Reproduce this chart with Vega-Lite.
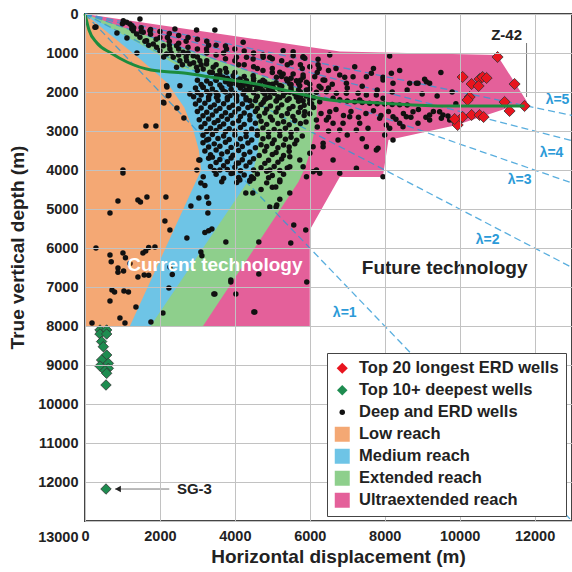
{
"$schema":"https://vega.github.io/schema/vega-lite/v6.json",
"width":487,"height":507,"autosize":"none",
"padding":{"left":85,"top":14,"right":0,"bottom":51},
"background":"white",
"config":{
"view":{"stroke":"#444","strokeWidth":2},
"axis":{"labelFont":"Liberation Sans","labelFontWeight":"bold","labelFontSize":14.5,"labelColor":"#222","titleFont":"Liberation Sans","titleFontWeight":"bold","titleFontSize":19,"titleColor":"#222","ticks":false,"domain":false,"grid":true,"gridColor":"#c2c2c2","gridOpacity":1,"gridWidth":1},
"legend":{"orient":"none","legendX":242,"legendY":339,"labelFont":"Liberation Sans","labelFontSize":16.5,"labelFontWeight":"bold","labelColor":"#222","fillColor":"#ffffff","strokeColor":"#444","padding":7,"rowPadding":5,"labelOffset":8.5,"labelLimit":320,"symbolStrokeWidth":0,"symbolOpacity":1}
},
"datasets":{
"regions":[
{"k":"g","x":0,"y":0},{"k":"g","x":6800,"y":960},{"k":"g","x":11000,"y":1050},{"k":"g","x":11800,"y":2250},{"k":"g","x":9900,"y":2850},{"k":"g","x":8100,"y":3230},{"k":"g","x":7950,"y":4180},{"k":"g","x":6800,"y":4181},{"k":"g","x":6000,"y":5540},{"k":"g","x":6000,"y":8000},
{"k":"f","x":0,"y":0},{"k":"f","x":6200,"y":2080},{"k":"f","x":6180,"y":2700},{"k":"f","x":6020,"y":3500},{"k":"f","x":5870,"y":3950},{"k":"f","x":5700,"y":4300},{"k":"f","x":3150,"y":8000},
{"k":"e","x":0,"y":0},{"k":"e","x":1470,"y":770},{"k":"e","x":2600,"y":1400},{"k":"e","x":3300,"y":1500},{"k":"e","x":4100,"y":1560},{"k":"e","x":4600,"y":2700},{"k":"e","x":4650,"y":3150},{"k":"e","x":4600,"y":3600},{"k":"e","x":4450,"y":4150},{"k":"e","x":1750,"y":8000},
{"k":"d","x":0,"y":0},{"k":"d","x":1500,"y":1180},{"k":"d","x":2200,"y":1770},{"k":"d","x":2650,"y":2400},{"k":"d","x":2900,"y":3000},{"k":"d","x":3040,"y":3500},{"k":"d","x":3100,"y":4000},{"k":"d","x":1200,"y":8000}
],
"lam":[{"x":0,"y":0,"x2":13000,"y2":13000},{"x":0,"y":0,"x2":13000,"y2":6500},{"x":0,"y":0,"x2":13000,"y2":4333},{"x":0,"y":0,"x2":13000,"y2":3250},{"x":0,"y":0,"x2":13000,"y2":2600}],
"annot":[{"x":11787,"y":744,"x2":11787,"y2":2128},{"x":800,"y":12180,"x2":2250,"y2":12180}],
"curve":[{"x":0,"y":0},{"x":107,"y":410},{"x":320,"y":744},{"x":693,"y":1000},{"x":1120,"y":1231},{"x":1760,"y":1436},{"x":2640,"y":1513},{"x":3520,"y":1641},{"x":4427,"y":1769},{"x":5307,"y":1949},{"x":6533,"y":2205},{"x":7867,"y":2282},{"x":9653,"y":2359},{"x":11733,"y":2359}],
"pts":[
{"k":"c","x":266,"y":342},{"k":"c","x":1022,"y":171},{"k":"c","x":1111,"y":214},{"k":"c","x":1200,"y":256},{"k":"c","x":1467,"y":128},{"k":"c","x":1289,"y":427},{"k":"c","x":1378,"y":513},{"k":"c","x":1467,"y":598},{"k":"c","x":1555,"y":470},{"k":"c","x":1644,"y":684},{"k":"c","x":1733,"y":427},{"k":"c","x":1822,"y":769},{"k":"c","x":1911,"y":855},{"k":"c","x":2000,"y":940},{"k":"c","x":2089,"y":812},{"k":"c","x":2178,"y":1026},{"k":"c","x":2267,"y":897},{"k":"c","x":2356,"y":1111},{"k":"c","x":2444,"y":812},{"k":"c","x":2533,"y":1197},{"k":"c","x":2622,"y":983},{"k":"c","x":2711,"y":1197},{"k":"c","x":2800,"y":1282},{"k":"c","x":2889,"y":1068},{"k":"c","x":2978,"y":1368},{"k":"c","x":3067,"y":1197},{"k":"c","x":3156,"y":1410},{"k":"c","x":3244,"y":1282},{"k":"c","x":3333,"y":1496},{"k":"c","x":3422,"y":1368},{"k":"c","x":3511,"y":1581},{"k":"c","x":3600,"y":1453},{"k":"c","x":3689,"y":1624},{"k":"c","x":3778,"y":1496},{"k":"c","x":3867,"y":1709},{"k":"c","x":3956,"y":1581},{"k":"c","x":4044,"y":1795},{"k":"c","x":4133,"y":1667},{"k":"c","x":4222,"y":1838},{"k":"c","x":4311,"y":1709},{"k":"c","x":4400,"y":1880},{"k":"c","x":4489,"y":1581},{"k":"c","x":4578,"y":1923},{"k":"c","x":4667,"y":1752},{"k":"c","x":4756,"y":1966},{"k":"c","x":4844,"y":1838},{"k":"c","x":4933,"y":2009},{"k":"c","x":5022,"y":1880},{"k":"c","x":5111,"y":1624},{"k":"c","x":5200,"y":1496},{"k":"c","x":5289,"y":1538},{"k":"c","x":5378,"y":1667},{"k":"c","x":5467,"y":1795},{"k":"c","x":5556,"y":1538},{"k":"c","x":5644,"y":1709},{"k":"c","x":5733,"y":1838},{"k":"c","x":5822,"y":1624},{"k":"c","x":5911,"y":1752},{"k":"c","x":6000,"y":1923},{"k":"c","x":2400,"y":385},{"k":"c","x":2978,"y":410},{"k":"c","x":3467,"y":410},{"k":"c","x":3244,"y":897},{"k":"c","x":3778,"y":897},{"k":"c","x":4044,"y":1111},{"k":"c","x":4222,"y":726},{"k":"c","x":4311,"y":1111},{"k":"c","x":4489,"y":1154},{"k":"c","x":4756,"y":1111},{"k":"c","x":4933,"y":1111},{"k":"c","x":5289,"y":940},{"k":"c","x":5556,"y":1068},{"k":"c","x":5822,"y":1111},{"k":"c","x":2444,"y":1368},{"k":"c","x":2533,"y":1838},{"k":"c","x":2800,"y":2051},{"k":"c","x":3156,"y":1880},{"k":"c","x":3333,"y":2051},{"k":"c","x":3511,"y":2137},{"k":"c","x":3689,"y":1966},{"k":"c","x":3867,"y":2094},{"k":"c","x":4044,"y":2179},{"k":"c","x":4222,"y":2051},{"k":"c","x":4400,"y":2222},{"k":"c","x":4578,"y":2137},{"k":"c","x":4756,"y":2265},{"k":"c","x":4933,"y":2137},{"k":"c","x":5111,"y":2222},{"k":"c","x":5289,"y":2094},{"k":"c","x":5467,"y":2009},{"k":"c","x":5644,"y":2137},{"k":"c","x":5822,"y":2222},{"k":"c","x":6000,"y":2094},{"k":"c","x":6178,"y":2009},{"k":"c","x":2178,"y":1838},{"k":"c","x":2222,"y":2094},{"k":"c","x":2089,"y":2265},
{"k":"c","x":1600,"y":700},{"k":"c","x":1700,"y":800},{"k":"c","x":2100,"y":1100},{"k":"c","x":2300,"y":1000},{"k":"c","x":2500,"y":1050},{"k":"c","x":2700,"y":1100},{"k":"c","x":2900,"y":1250},{"k":"c","x":3100,"y":1300},{"k":"c","x":3400,"y":1500},{"k":"c","x":3600,"y":1550},{"k":"c","x":3800,"y":1650},{"k":"c","x":4000,"y":1700},{"k":"c","x":4200,"y":1750},{"k":"c","x":4500,"y":1800},{"k":"c","x":4700,"y":1850},{"k":"c","x":5000,"y":1950},{"k":"c","x":5300,"y":2000},{"k":"c","x":5600,"y":2050},{"k":"c","x":5900,"y":2100},{"k":"c","x":1900,"y":650},{"k":"c","x":2600,"y":1300},{"k":"c","x":3000,"y":1450},{"k":"c","x":3500,"y":1700},{"k":"c","x":3900,"y":1800},{"k":"c","x":4300,"y":1950},{"k":"c","x":4800,"y":2050},{"k":"c","x":5200,"y":2150},{"k":"c","x":5700,"y":1950},{"k":"c","x":6100,"y":2150},{"k":"c","x":1300,"y":350},{"k":"c","x":2200,"y":600},{"k":"c","x":2700,"y":700},{"k":"c","x":3300,"y":800},{"k":"c","x":3700,"y":1000},{"k":"c","x":4100,"y":1300},{"k":"c","x":4600,"y":1400},{"k":"c","x":5000,"y":1400},{"k":"c","x":5400,"y":1300},{"k":"c","x":5800,"y":1400},{"k":"c","x":6200,"y":1500},{"k":"c","x":6400,"y":1700},
{"k":"c","x":1000,"y":250},{"k":"c","x":1250,"y":300},{"k":"c","x":1250,"y":380},{"k":"c","x":1500,"y":350},{"k":"c","x":1500,"y":450},{"k":"c","x":1750,"y":400},{"k":"c","x":1750,"y":520},{"k":"c","x":2000,"y":450},{"k":"c","x":2000,"y":600},{"k":"c","x":2250,"y":500},{"k":"c","x":2250,"y":700},{"k":"c","x":2250,"y":800},{"k":"c","x":2500,"y":550},{"k":"c","x":2500,"y":750},{"k":"c","x":2500,"y":900},{"k":"c","x":2750,"y":600},{"k":"c","x":2750,"y":850},{"k":"c","x":2750,"y":1000},{"k":"c","x":3000,"y":650},{"k":"c","x":3000,"y":900},{"k":"c","x":3000,"y":1100},{"k":"c","x":3250,"y":700},{"k":"c","x":3250,"y":1000},{"k":"c","x":3250,"y":1200},{"k":"c","x":3500,"y":800},{"k":"c","x":3500,"y":1050},{"k":"c","x":3500,"y":1300},{"k":"c","x":3750,"y":820},{"k":"c","x":3750,"y":1150},{"k":"c","x":3750,"y":1400},{"k":"c","x":4000,"y":900},{"k":"c","x":4000,"y":1200},{"k":"c","x":4000,"y":1500},{"k":"c","x":4250,"y":950},{"k":"c","x":4250,"y":1300},{"k":"c","x":4250,"y":1600},{"k":"c","x":4500,"y":1000},{"k":"c","x":4500,"y":1350},{"k":"c","x":4500,"y":1650},{"k":"c","x":4750,"y":1050},{"k":"c","x":4750,"y":1450},{"k":"c","x":4750,"y":1700},{"k":"c","x":5000,"y":1150},{"k":"c","x":5000,"y":1500},{"k":"c","x":5000,"y":1800},{"k":"c","x":5250,"y":1200},{"k":"c","x":5250,"y":1600},{"k":"c","x":5250,"y":1850},{"k":"c","x":5500,"y":1250},{"k":"c","x":5500,"y":1650},{"k":"c","x":5500,"y":1900},{"k":"c","x":5750,"y":1300},{"k":"c","x":5750,"y":1700},{"k":"c","x":5750,"y":2000},{"k":"c","x":6000,"y":1350},{"k":"c","x":6000,"y":1800},{"k":"c","x":6250,"y":1400},{"k":"c","x":6250,"y":1850},{"k":"c","x":6500,"y":1450},{"k":"c","x":6500,"y":1900},
{"k":"c","x":3000,"y":1700},{"k":"c","x":3250,"y":1720},{"k":"c","x":3500,"y":1690},{"k":"c","x":3750,"y":1740},{"k":"c","x":4000,"y":1710},{"k":"c","x":4250,"y":1760},{"k":"c","x":4500,"y":1700},{"k":"c","x":4800,"y":1740},{"k":"c","x":5100,"y":1760},{"k":"c","x":5400,"y":1720},{"k":"c","x":5700,"y":1780},
{"k":"c","x":2950,"y":1900},{"k":"c","x":3150,"y":1880},{"k":"c","x":3400,"y":1920},{"k":"c","x":3650,"y":1890},{"k":"c","x":3900,"y":1930},{"k":"c","x":4150,"y":1900},{"k":"c","x":4400,"y":1940},{"k":"c","x":4650,"y":1910},{"k":"c","x":4900,"y":1950},{"k":"c","x":5200,"y":1920},{"k":"c","x":5500,"y":1960},
{"k":"c","x":2900,"y":2120},{"k":"c","x":3100,"y":2080},{"k":"c","x":3300,"y":2130},{"k":"c","x":3550,"y":2090},{"k":"c","x":3800,"y":2140},{"k":"c","x":4050,"y":2100},{"k":"c","x":4300,"y":2150},{"k":"c","x":4600,"y":2110},{"k":"c","x":4850,"y":2160},{"k":"c","x":5150,"y":2120},{"k":"c","x":5450,"y":2170},{"k":"c","x":5750,"y":2130},{"k":"c","x":6050,"y":2300},
{"k":"c","x":2950,"y":2310},{"k":"c","x":3200,"y":2290},{"k":"c","x":3450,"y":2330},{"k":"c","x":3700,"y":2300},{"k":"c","x":3950,"y":2340},{"k":"c","x":4200,"y":2310},{"k":"c","x":4450,"y":2350},{"k":"c","x":4700,"y":2320},{"k":"c","x":4950,"y":2360},{"k":"c","x":5250,"y":2330},{"k":"c","x":5550,"y":2370},{"k":"c","x":5850,"y":2340},
{"k":"c","x":3000,"y":2500},{"k":"c","x":3250,"y":2520},{"k":"c","x":3500,"y":2490},{"k":"c","x":3750,"y":2530},{"k":"c","x":4000,"y":2510},{"k":"c","x":4250,"y":2540},{"k":"c","x":4550,"y":2500},{"k":"c","x":4800,"y":2540},{"k":"c","x":5100,"y":2510},{"k":"c","x":5400,"y":2550},{"k":"c","x":5700,"y":2520},{"k":"c","x":6000,"y":2560},
{"k":"c","x":3050,"y":2710},{"k":"c","x":3300,"y":2690},{"k":"c","x":3550,"y":2730},{"k":"c","x":3800,"y":2700},{"k":"c","x":4100,"y":2740},{"k":"c","x":4400,"y":2710},{"k":"c","x":4700,"y":2750},{"k":"c","x":5000,"y":2720},{"k":"c","x":5300,"y":2760},{"k":"c","x":5600,"y":2730},{"k":"c","x":5900,"y":2770},
{"k":"c","x":3100,"y":2900},{"k":"c","x":3350,"y":2930},{"k":"c","x":3600,"y":2890},{"k":"c","x":3850,"y":2940},{"k":"c","x":4150,"y":2910},{"k":"c","x":4450,"y":2950},{"k":"c","x":4750,"y":2920},{"k":"c","x":5050,"y":2960},{"k":"c","x":5350,"y":2930},{"k":"c","x":5650,"y":2970},
{"k":"c","x":3150,"y":3110},{"k":"c","x":3400,"y":3090},{"k":"c","x":3700,"y":3130},{"k":"c","x":4000,"y":3100},{"k":"c","x":4300,"y":3140},{"k":"c","x":4600,"y":3110},{"k":"c","x":4900,"y":3150},{"k":"c","x":5200,"y":3120},{"k":"c","x":5500,"y":3160},{"k":"c","x":5800,"y":3130},
{"k":"c","x":3150,"y":3300},{"k":"c","x":3450,"y":3330},{"k":"c","x":3750,"y":3290},{"k":"c","x":4050,"y":3340},{"k":"c","x":4350,"y":3310},{"k":"c","x":4700,"y":3350},{"k":"c","x":5000,"y":3320},{"k":"c","x":5300,"y":3360},{"k":"c","x":5600,"y":3330},
{"k":"c","x":3200,"y":3510},{"k":"c","x":3500,"y":3490},{"k":"c","x":3800,"y":3530},{"k":"c","x":4100,"y":3500},{"k":"c","x":4400,"y":3540},{"k":"c","x":4800,"y":3510},{"k":"c","x":5100,"y":3550},{"k":"c","x":5450,"y":3520},
{"k":"c","x":3300,"y":3700},{"k":"c","x":3600,"y":3730},{"k":"c","x":3900,"y":3690},{"k":"c","x":4200,"y":3740},{"k":"c","x":4500,"y":3710},{"k":"c","x":4900,"y":3750},{"k":"c","x":5250,"y":3720},
{"k":"c","x":3350,"y":3910},{"k":"c","x":3700,"y":3890},{"k":"c","x":4000,"y":3930},{"k":"c","x":4300,"y":3900},{"k":"c","x":4700,"y":3940},{"k":"c","x":5050,"y":3910},{"k":"c","x":5400,"y":3950},
{"k":"c","x":3500,"y":4110},{"k":"c","x":3900,"y":4090},{"k":"c","x":4250,"y":4130},{"k":"c","x":4600,"y":4100},{"k":"c","x":5000,"y":4140},{"k":"c","x":5300,"y":4110},
{"k":"c","x":3650,"y":4300},{"k":"c","x":4050,"y":4320},{"k":"c","x":4400,"y":4290},{"k":"c","x":4850,"y":4330},{"k":"c","x":5200,"y":4300},
{"k":"c","x":3100,"y":1810},{"k":"c","x":3350,"y":1790},{"k":"c","x":3600,"y":1820},{"k":"c","x":3850,"y":1800},{"k":"c","x":4100,"y":1830},{"k":"c","x":4350,"y":1810},{"k":"c","x":4600,"y":1840},{"k":"c","x":4900,"y":1800},{"k":"c","x":5200,"y":1830},{"k":"c","x":5500,"y":1810},
{"k":"c","x":3000,"y":2010},{"k":"c","x":3250,"y":1990},{"k":"c","x":3500,"y":2020},{"k":"c","x":3750,"y":2000},{"k":"c","x":4000,"y":2030},{"k":"c","x":4250,"y":1990},{"k":"c","x":4500,"y":2020},{"k":"c","x":4750,"y":2000},{"k":"c","x":5050,"y":2030},{"k":"c","x":5350,"y":2010},{"k":"c","x":5650,"y":2040},
{"k":"c","x":3050,"y":2210},{"k":"c","x":3300,"y":2190},{"k":"c","x":3550,"y":2220},{"k":"c","x":3800,"y":2200},{"k":"c","x":4050,"y":2230},{"k":"c","x":4300,"y":2200},{"k":"c","x":4550,"y":2220},{"k":"c","x":4800,"y":2190},{"k":"c","x":5100,"y":2230},{"k":"c","x":5400,"y":2210},{"k":"c","x":5700,"y":2240},{"k":"c","x":6000,"y":2200},
{"k":"c","x":3100,"y":2410},{"k":"c","x":3350,"y":2390},{"k":"c","x":3600,"y":2420},{"k":"c","x":3850,"y":2400},{"k":"c","x":4100,"y":2430},{"k":"c","x":4350,"y":2400},{"k":"c","x":4600,"y":2420},{"k":"c","x":4850,"y":2440},{"k":"c","x":5150,"y":2410},{"k":"c","x":5450,"y":2430},{"k":"c","x":5750,"y":2400},
{"k":"c","x":3150,"y":2610},{"k":"c","x":3400,"y":2590},{"k":"c","x":3650,"y":2620},{"k":"c","x":3900,"y":2600},{"k":"c","x":4150,"y":2630},{"k":"c","x":4400,"y":2600},{"k":"c","x":4650,"y":2620},{"k":"c","x":4950,"y":2640},{"k":"c","x":5250,"y":2610},{"k":"c","x":5550,"y":2630},{"k":"c","x":5850,"y":2600},
{"k":"c","x":3200,"y":2810},{"k":"c","x":3450,"y":2790},{"k":"c","x":3700,"y":2820},{"k":"c","x":3950,"y":2800},{"k":"c","x":4250,"y":2830},{"k":"c","x":4550,"y":2800},{"k":"c","x":4850,"y":2830},{"k":"c","x":5150,"y":2810},{"k":"c","x":5450,"y":2840},{"k":"c","x":5750,"y":2810},
{"k":"c","x":3250,"y":3010},{"k":"c","x":3500,"y":2990},{"k":"c","x":3750,"y":3020},{"k":"c","x":4000,"y":3000},{"k":"c","x":4300,"y":3030},{"k":"c","x":4600,"y":3000},{"k":"c","x":4900,"y":3030},{"k":"c","x":5200,"y":3010},{"k":"c","x":5500,"y":3040},
{"k":"c","x":3300,"y":3210},{"k":"c","x":3550,"y":3190},{"k":"c","x":3850,"y":3220},{"k":"c","x":4150,"y":3200},{"k":"c","x":4450,"y":3230},{"k":"c","x":4750,"y":3200},{"k":"c","x":5050,"y":3230},{"k":"c","x":5350,"y":3210},{"k":"c","x":5650,"y":3240},
{"k":"c","x":3300,"y":3410},{"k":"c","x":3600,"y":3390},{"k":"c","x":3900,"y":3420},{"k":"c","x":4200,"y":3400},{"k":"c","x":4550,"y":3430},{"k":"c","x":4850,"y":3400},{"k":"c","x":5150,"y":3430},{"k":"c","x":5450,"y":3410},
{"k":"c","x":3350,"y":3610},{"k":"c","x":3650,"y":3590},{"k":"c","x":3950,"y":3620},{"k":"c","x":4250,"y":3600},{"k":"c","x":4650,"y":3630},{"k":"c","x":5000,"y":3600},{"k":"c","x":5300,"y":3630},
{"k":"c","x":3500,"y":3810},{"k":"c","x":3800,"y":3790},{"k":"c","x":4100,"y":3820},{"k":"c","x":4400,"y":3800},{"k":"c","x":4800,"y":3830},{"k":"c","x":5150,"y":3800},
{"k":"c","x":3450,"y":4010},{"k":"c","x":3800,"y":3990},{"k":"c","x":4150,"y":4020},{"k":"c","x":4500,"y":4000},{"k":"c","x":4850,"y":4030},{"k":"c","x":5200,"y":4010},
{"k":"c","x":3700,"y":4210},{"k":"c","x":4100,"y":4190},{"k":"c","x":4500,"y":4220},{"k":"c","x":4900,"y":4200},
{"k":"c","x":3067,"y":3744},{"k":"c","x":3156,"y":4171},{"k":"c","x":3600,"y":4000},{"k":"c","x":4045,"y":3829},{"k":"c","x":4134,"y":4256},{"k":"c","x":4445,"y":4171},{"k":"c","x":4934,"y":4000},{"k":"c","x":5201,"y":4256},{"k":"c","x":5467,"y":3915},{"k":"c","x":5734,"y":3744},{"k":"c","x":6001,"y":3573},{"k":"c","x":6179,"y":4000},{"k":"c","x":5912,"y":4171},{"k":"c","x":6356,"y":3402},{"k":"c","x":3250,"y":3230},{"k":"c","x":3400,"y":3670},{"k":"c","x":3950,"y":4080},{"k":"c","x":4400,"y":4260},{"k":"c","x":5000,"y":4440},{"k":"c","x":5100,"y":4950},{"k":"c","x":4480,"y":4590},{"k":"c","x":5200,"y":4750},{"k":"c","x":4700,"y":4500},
{"k":"c","x":5822,"y":1094},{"k":"c","x":6533,"y":1051},{"k":"c","x":8133,"y":1077},{"k":"c","x":6222,"y":1163},{"k":"c","x":5822,"y":1564},{"k":"c","x":6133,"y":1607},{"k":"c","x":6355,"y":1692},{"k":"c","x":6800,"y":1564},{"k":"c","x":6978,"y":1778},{"k":"c","x":7644,"y":1521},{"k":"c","x":7955,"y":1624},{"k":"c","x":8178,"y":1521},{"k":"c","x":8222,"y":1778},{"k":"c","x":8666,"y":1778},{"k":"c","x":8889,"y":1778},{"k":"c","x":9066,"y":1675},{"k":"c","x":9200,"y":1778},{"k":"c","x":5911,"y":1949},{"k":"c","x":6444,"y":1991},{"k":"c","x":6711,"y":2034},{"k":"c","x":6978,"y":2034},{"k":"c","x":7289,"y":2034},{"k":"c","x":7511,"y":2077},{"k":"c","x":7777,"y":2077},{"k":"c","x":7955,"y":2162},{"k":"c","x":7333,"y":2205},
{"k":"c","x":6622,"y":2162},{"k":"c","x":6800,"y":2200},{"k":"c","x":7000,"y":2230},{"k":"c","x":7200,"y":2250},{"k":"c","x":7400,"y":2270},{"k":"c","x":7600,"y":2290},{"k":"c","x":7800,"y":2300},{"k":"c","x":8000,"y":2310},{"k":"c","x":8200,"y":2320},{"k":"c","x":8400,"y":2330},{"k":"c","x":8600,"y":2335},
{"k":"c","x":6000,"y":2291},{"k":"c","x":6266,"y":2248},{"k":"c","x":6533,"y":2505},{"k":"c","x":5866,"y":2505},{"k":"c","x":6177,"y":2718},{"k":"c","x":6444,"y":2718},{"k":"c","x":6622,"y":2804},{"k":"c","x":6800,"y":2975},{"k":"c","x":7066,"y":2633},{"k":"c","x":7333,"y":2804},{"k":"c","x":7555,"y":2932},{"k":"c","x":7866,"y":2676},{"k":"c","x":8044,"y":2847},{"k":"c","x":8222,"y":2633},{"k":"c","x":8400,"y":2804},{"k":"c","x":8578,"y":2633},{"k":"c","x":8756,"y":2505},{"k":"c","x":8889,"y":2804},{"k":"c","x":9200,"y":2590},{"k":"c","x":9466,"y":2505},{"k":"c","x":9555,"y":2590},{"k":"c","x":9689,"y":2616},{"k":"c","x":6755,"y":3231},{"k":"c","x":7511,"y":3402},{"k":"c","x":7822,"y":3445},{"k":"c","x":8222,"y":3231},{"k":"c","x":6888,"y":2804},{"k":"c","x":7244,"y":2975},{"k":"c","x":8133,"y":2932},{"k":"c","x":8489,"y":2889},
{"k":"c","x":6100,"y":2400},{"k":"c","x":6300,"y":2550},{"k":"c","x":6500,"y":2650},{"k":"c","x":6700,"y":2450},{"k":"c","x":6900,"y":2600},{"k":"c","x":7100,"y":2500},{"k":"c","x":7300,"y":2650},{"k":"c","x":7500,"y":2550},{"k":"c","x":7700,"y":2480},{"k":"c","x":7900,"y":2600},{"k":"c","x":8100,"y":2500},{"k":"c","x":8300,"y":2700},{"k":"c","x":8500,"y":2550},{"k":"c","x":8700,"y":2650},{"k":"c","x":8900,"y":2450},{"k":"c","x":9100,"y":2650},{"k":"c","x":9300,"y":2500},{"k":"c","x":6200,"y":2900},{"k":"c","x":6500,"y":3000},{"k":"c","x":7000,"y":3100},{"k":"c","x":7400,"y":3200},{"k":"c","x":8000,"y":3100},{"k":"c","x":6300,"y":1900},{"k":"c","x":6600,"y":1800},{"k":"c","x":7000,"y":1900},{"k":"c","x":7400,"y":1850},{"k":"c","x":7800,"y":1950},{"k":"c","x":8200,"y":2000},{"k":"c","x":8600,"y":1950},{"k":"c","x":9000,"y":2050},{"k":"c","x":9400,"y":2100},{"k":"c","x":6700,"y":1400},{"k":"c","x":7200,"y":1350},{"k":"c","x":7700,"y":1400},{"k":"c","x":8400,"y":1450},{"k":"c","x":9500,"y":1500},{"k":"c","x":9800,"y":2000},{"k":"c","x":9900,"y":2300},
{"k":"c","x":5556,"y":966},{"k":"c","x":5867,"y":1137},{"k":"c","x":6222,"y":1300},{"k":"c","x":7156,"y":1607},{"k":"c","x":6934,"y":1624},{"k":"c","x":7511,"y":1607},{"k":"c","x":7956,"y":1692},{"k":"c","x":8845,"y":1778},{"k":"c","x":9112,"y":1735},{"k":"c","x":9512,"y":2675},{"k":"c","x":9734,"y":2718},{"k":"c","x":9200,"y":2718},{"k":"c","x":7778,"y":3487},{"k":"c","x":6089,"y":3402},{"k":"c","x":6356,"y":3316},{"k":"c","x":6622,"y":3744},{"k":"c","x":6800,"y":4085},{"k":"c","x":7956,"y":4171},{"k":"c","x":7245,"y":3957},{"k":"c","x":5822,"y":3915},{"k":"c","x":6089,"y":4043},{"k":"c","x":6267,"y":4085},{"k":"c","x":5467,"y":3658},
{"k":"c","x":293,"y":333},{"k":"c","x":853,"y":487},{"k":"c","x":1120,"y":615},{"k":"c","x":1387,"y":1000},{"k":"c","x":2187,"y":1872},{"k":"c","x":2240,"y":2077},{"k":"c","x":2107,"y":2282},{"k":"c","x":2453,"y":2410},{"k":"c","x":2640,"y":2667},{"k":"c","x":1627,"y":2872},{"k":"c","x":1893,"y":2872},{"k":"c","x":3040,"y":3744},{"k":"c","x":2987,"y":4000},
{"k":"c","x":1013,"y":4077},{"k":"c","x":1013,"y":4000},{"k":"c","x":880,"y":4795},{"k":"c","x":1413,"y":4770},{"k":"c","x":1480,"y":4820},{"k":"c","x":1653,"y":4692},{"k":"c","x":2160,"y":4692},{"k":"c","x":667,"y":5103},{"k":"c","x":2133,"y":5308},{"k":"c","x":2267,"y":5538},{"k":"c","x":293,"y":6000},{"k":"c","x":1867,"y":5974},{"k":"c","x":667,"y":6180},{"k":"c","x":700,"y":6350},{"k":"c","x":1013,"y":6128},{"k":"c","x":1080,"y":6250},{"k":"c","x":1200,"y":6400},{"k":"c","x":1547,"y":6128},{"k":"c","x":1620,"y":6080},{"k":"c","x":1700,"y":5990},{"k":"c","x":880,"y":6513},{"k":"c","x":880,"y":6620},{"k":"c","x":1030,"y":6590},{"k":"c","x":1413,"y":6744},{"k":"c","x":1580,"y":6690},{"k":"c","x":1700,"y":6700},{"k":"c","x":2267,"y":6487},{"k":"c","x":2330,"y":6680},{"k":"c","x":720,"y":7077},{"k":"c","x":790,"y":7128},{"k":"c","x":1040,"y":7103},{"k":"c","x":1160,"y":7128},{"k":"c","x":667,"y":7359},{"k":"c","x":1360,"y":7513},{"k":"c","x":933,"y":7795},{"k":"c","x":1067,"y":7923},{"k":"c","x":187,"y":7923},{"k":"c","x":2240,"y":7026},{"k":"c","x":2080,"y":7667},{"k":"c","x":1760,"y":7897},{"k":"c","x":3467,"y":7179},{"k":"c","x":4027,"y":7179},{"k":"c","x":3893,"y":6872},{"k":"c","x":4533,"y":7641},
{"k":"c","x":2720,"y":5744},{"k":"c","x":3040,"y":4718},{"k":"c","x":3253,"y":4692},{"k":"c","x":3300,"y":4850},{"k":"c","x":3280,"y":5103},{"k":"c","x":3387,"y":5513},{"k":"c","x":3300,"y":5560},{"k":"c","x":3200,"y":5600},{"k":"c","x":3093,"y":6103},{"k":"c","x":3120,"y":6200},{"k":"c","x":2827,"y":4923},{"k":"c","x":3093,"y":4333},{"k":"c","x":3200,"y":4400},
{"k":"c","x":3760,"y":5846},{"k":"c","x":4640,"y":5846},{"k":"c","x":3893,"y":6821},{"k":"c","x":3440,"y":7179},{"k":"c","x":4640,"y":6667},{"k":"c","x":4507,"y":7641},{"k":"c","x":4293,"y":4590},{"k":"c","x":5120,"y":4897},{"k":"c","x":5093,"y":4436},{"k":"c","x":5467,"y":4590},{"k":"c","x":4933,"y":4949},
{"k":"c","x":5573,"y":5410},{"k":"c","x":5893,"y":5538},{"k":"c","x":5493,"y":5872},{"k":"c","x":5920,"y":6872},
{"k":"a","x":11013,"y":1103},{"k":"a","x":10080,"y":1615},{"k":"a","x":10320,"y":1795},{"k":"a","x":10533,"y":1667},{"k":"a","x":10613,"y":1615},{"k":"a","x":10720,"y":1641},{"k":"a","x":10507,"y":1846},{"k":"a","x":11467,"y":1795},{"k":"a","x":10267,"y":2128},{"k":"a","x":10213,"y":2205},{"k":"a","x":11333,"y":2487},{"k":"a","x":11200,"y":2256},{"k":"a","x":11733,"y":2359},{"k":"a","x":9920,"y":2769},{"k":"a","x":9947,"y":2846},{"k":"a","x":10080,"y":2641},{"k":"a","x":10320,"y":2590},{"k":"a","x":10533,"y":2590},{"k":"a","x":10640,"y":2641},{"k":"a","x":9867,"y":2692},
{"k":"b","x":400,"y":8103},{"k":"b","x":578,"y":8103},{"k":"b","x":400,"y":8205},{"k":"b","x":578,"y":8205},{"k":"b","x":444,"y":8400},{"k":"b","x":489,"y":8530},{"k":"b","x":578,"y":8744},{"k":"b","x":444,"y":8872},{"k":"b","x":622,"y":8957},{"k":"b","x":400,"y":9026},{"k":"b","x":622,"y":9085},{"k":"b","x":533,"y":9145},{"k":"b","x":578,"y":9214},{"k":"b","x":560,"y":9513},{"k":"b","x":560,"y":12180}
],
"lamtext":[{"t":"λ=1","x":6933,"y":7667},{"t":"λ=2","x":10747,"y":5795},{"t":"λ=3","x":11600,"y":4256},{"t":"λ=4","x":12453,"y":3564},{"t":"λ=5","x":12613,"y":2205}]
},
"encoding":{
"x":{"field":"x","type":"quantitative","stack":null,"scale":{"domain":[0,13000],"nice":false,"zero":false},"axis":{"title":"Horizontal displacement (m)","values":[0,2000,4000,6000,8000,10000,12000],"format":"d","labelFlush":false,"labelPadding":8,"titlePadding":5,"titleX":253,"grid":true,"gridColor":"#c2c2c2","gridOpacity":1,"zindex":1}},
"y":{"field":"y","type":"quantitative","scale":{"domain":[0,13000],"reverse":true,"nice":false,"zero":false},"axis":{"title":"True vertical depth (m)","values":[0,1000,2000,3000,4000,5000,6000,7000,8000,9000,10000,11000,12000,13000],"format":"d","labelPadding":7,"labelOffset":{"condition":{"test":"datum.value==13000","value":16},"value":0},"titleX":-58,"titleY":233,"grid":true,"gridColor":"#c2c2c2","gridOpacity":1,"zindex":1}},
"color":{"field":"k","type":"nominal","scale":{"domain":["a","b","c","d","e","f","g"],"range":["#e8141e","#1e8c50","#111111","#f4a874","#6ec4e6","#8ecf8c","#e4609a"]},"legend":{"title":null,"zindex":2,"labelExpr":"datum.label=='a'?'Top 20 longest ERD wells':datum.label=='b'?'Top 10+ deepest wells':datum.label=='c'?'Deep and ERD wells':datum.label=='d'?'Low reach':datum.label=='e'?'Medium reach':datum.label=='f'?'Extended reach':'Ultraextended reach'"}}
},
"layer":[
{"data":{"name":"regions"},"transform":[{"filter":"datum.k=='g'"}],"mark":{"type":"area","orient":"horizontal","opacity":1}},
{"data":{"name":"regions"},"transform":[{"filter":"datum.k=='f'"}],"mark":{"type":"area","orient":"horizontal","opacity":1}},
{"data":{"name":"regions"},"transform":[{"filter":"datum.k=='e'"}],"mark":{"type":"area","orient":"horizontal","opacity":1}},
{"data":{"name":"regions"},"transform":[{"filter":"datum.k=='d'"}],"mark":{"type":"area","orient":"horizontal","opacity":1}},
{"data":{"name":"lam"},"mark":{"type":"rule","strokeDash":[7,4],"strokeWidth":1.3,"opacity":0.8},"encoding":{"x2":{"field":"x2"},"y2":{"field":"y2"},"color":{"value":"#2f9ad6"}}},
{"data":{"name":"annot"},"mark":{"type":"rule","strokeWidth":1},"encoding":{"x2":{"field":"x2"},"y2":{"field":"y2"},"color":{"value":"#777777"}}},
{"data":{"name":"pts"},"mark":{"type":"point","filled":true,"opacity":1,"stroke":"#333333"},"encoding":{
"shape":{"field":"k","type":"nominal","scale":{"domain":["a","b","c","d","e","f","g"],"range":["diamond","diamond","circle","square","square","square","square"]},"legend":{"title":null,"zindex":2,"labelExpr":"datum.label=='a'?'Top 20 longest ERD wells':datum.label=='b'?'Top 10+ deepest wells':datum.label=='c'?'Deep and ERD wells':datum.label=='d'?'Low reach':datum.label=='e'?'Medium reach':datum.label=='f'?'Extended reach':'Ultraextended reach'"}},
"size":{"field":"k","type":"nominal","scale":{"type":"ordinal","domain":["a","b","c","d","e","f","g"],"range":[125,110,30,225,225,225,225]},"legend":{"title":null,"zindex":2,"labelExpr":"datum.label=='a'?'Top 20 longest ERD wells':datum.label=='b'?'Top 10+ deepest wells':datum.label=='c'?'Deep and ERD wells':datum.label=='d'?'Low reach':datum.label=='e'?'Medium reach':datum.label=='f'?'Extended reach':'Ultraextended reach'"}},
"strokeWidth":{"condition":{"test":"datum.k=='c'","value":0},"value":0.8}}},
{"data":{"name":"curve"},"mark":{"type":"line","strokeWidth":3,"interpolate":"monotone"},"encoding":{"color":{"value":"#1c8c3e"}}},
{"data":{"values":[{"x":880,"y":12180}]},"mark":{"type":"point","filled":true,"opacity":1,"shape":"triangle-left","size":45},"encoding":{"color":{"value":"#222222"}}},
{"data":{"name":"lamtext"},"mark":{"type":"text","font":"Liberation Sans","fontSize":14,"fontWeight":"bold","align":"center","baseline":"middle"},"encoding":{"text":{"field":"t"},"color":{"value":"#2b9ad8"}}},
{"data":{"values":[{"t":"Z-42","x":11253,"y":538}]},"mark":{"type":"text","font":"Liberation Sans","fontSize":15,"fontWeight":"bold","align":"center","baseline":"middle"},"encoding":{"text":{"field":"t"},"color":{"value":"#222222"}}},
{"data":{"values":[{"t":"SG-3","x":2453,"y":12180}]},"mark":{"type":"text","font":"Liberation Sans","fontSize":15,"fontWeight":"bold","align":"left","baseline":"middle"},"encoding":{"text":{"field":"t"},"color":{"value":"#222222"}}},
{"data":{"values":[{"t":"Future technology","x":9600,"y":6513}]},"mark":{"type":"text","font":"Liberation Sans","fontSize":19,"fontWeight":"bold","align":"center","baseline":"middle"},"encoding":{"text":{"field":"t"},"color":{"value":"#222222"}}},
{"data":{"values":[{"t":"Current technology","x":3467,"y":6436}]},"mark":{"type":"text","font":"Liberation Sans","fontSize":19,"fontWeight":"bold","align":"center","baseline":"middle"},"encoding":{"text":{"field":"t"},"color":{"value":"#ffffff"}}}
]
}
